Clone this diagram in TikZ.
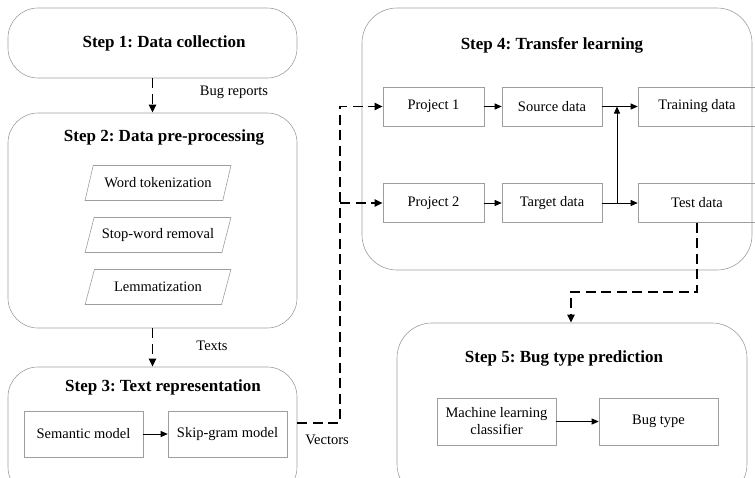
\documentclass[tikz,border=0pt]{standalone}
\usepackage{fontspec}
\setmainfont{Liberation Serif}
\usepackage{tikz}
\usetikzlibrary{shapes.geometric, arrows.meta, positioning, calc}
\frenchspacing
\definecolor{boxgray}{gray}{0.62}
\tikzset{
  stepbox/.style={draw=boxgray, rounded corners=30pt, line width=0.6pt},
  steptitle/.style={font=\fontsize{17}{20}\selectfont\bfseries},
  procbox/.style={draw=boxgray, line width=0.6pt, minimum height=39pt,
                  font=\fontsize{14.5}{17}\selectfont, align=center},
  slantbox/.style={draw=boxgray, line width=0.6pt, trapezium,
                   trapezium left angle=67, trapezium right angle=113,
                   trapezium stretches=true, minimum width=146pt,
                   minimum height=35pt, font=\fontsize{14.5}{17}\selectfont},
  flowlabel/.style={font=\fontsize{14.5}{17}\selectfont},
  flow/.style={-{Triangle[length=7pt,width=6pt]}, line width=0.8pt},
  dashflow/.style={-{Triangle[length=8pt,width=7pt]}, line width=1.9pt,
                   dash pattern=on 10pt off 5.5pt},
}
\begin{document}
\begin{tikzpicture}[x=1pt, y=-1pt]
    \useasboundingbox (0,0) rectangle (755,477);
    % step boxes
    \node[stepbox, minimum width=289pt, minimum height=70pt] (s1) at (152.5,43) {};
    \node[stepbox, minimum width=289pt, minimum height=215pt] (s2) at (152.5,220.5) {};
    \node[stepbox, minimum width=289pt, minimum height=130pt] (s3) at (152.5,432) {};
    \node[stepbox, rounded corners=35pt, minimum width=390pt, minimum height=262pt] (s4) at (557,139) {};
    \node[stepbox, rounded corners=35pt, minimum width=350pt, minimum height=176pt] (s5) at (572,411) {};
    \node[steptitle] (t1) at (164,43) {Step 1: Data collection};
    \node[steptitle] (t2) at (164,137) {Step 2: Data pre-processing};
    \node[steptitle] (t3) at (163,387) {Step 3: Text representation};
    \node[steptitle] (t4) at (552,45) {Step 4: Transfer learning};
    \node[steptitle] (t5) at (564,358) {Step 5: Bug type prediction};
    % step 2
    \foreach \n/\y/\txt in {w1/183/Word tokenization, w2/235/Stop-word removal, w3/287/Lemmatization}{
      \node[slantbox] (\n) at (158,\y) {\txt};
    }
    % step 3
    \node[procbox, minimum width=119pt, minimum height=46pt] (sem) at (83.5,434) {Semantic model};
    \node[procbox, minimum width=119pt, minimum height=46pt] (skip) at (227.5,434) {Skip-gram model};
    \draw[flow] (sem) -- (skip);
    % step 4
    \node[procbox, minimum width=101pt] (p1) at (433.5,106.5) {Project 1};
    \node[procbox, minimum width=100pt] (src) at (552,106.5) {Source data};
    \node[procbox, minimum width=118pt] (train) at (697,106.5) {Training data};
    \node[procbox, minimum width=101pt] (p2) at (433.5,203) {Project 2};
    \node[procbox, minimum width=100pt] (tgt) at (552,203) {Target data};
    \node[procbox, minimum width=118pt] (test) at (697,203) {Test data};
    \draw[flow] (p1) -- (src);
    \draw[flow] (src) -- (train);
    \draw[flow] (p2) -- (tgt);
    \draw[flow] (tgt) -- (test);
    \coordinate (jn) at (617,203);
    \draw[flow] (jn) -- (jn |- src);
    % step 5
    \node[procbox, minimum width=119pt, minimum height=47pt] (ml) at (496.5,421.5) {Machine learning\\classifier};
    \node[procbox, minimum width=119pt, minimum height=47pt] (bug) at (658.5,421.5) {Bug type};
    \draw[flow] (ml) -- (bug);
    % dashed flows between steps
    \draw[dashflow] (s1) -- (s2);
    \node[flowlabel] (lb1) at (234,92) {Bug reports};
    \draw[dashflow] (s2) -- (s3);
    \node[flowlabel] (lb2) at (212,346) {Texts};
    \coordinate (vj) at (340,423);
    \draw[dashflow] (s3.east |- vj) -- (vj) -- (vj |- p1) -- (p1.west);
    \draw[dashflow] (vj |- p2) -- (p2.west);
    \node[flowlabel] (lb3) at (327,440) {Vectors};
    \coordinate (tb) at (571,292);
    \draw[dashflow] (test.south) -- (test.south |- tb) -- (tb) -- (tb |- s5.north);
\end{tikzpicture}
\end{document}
